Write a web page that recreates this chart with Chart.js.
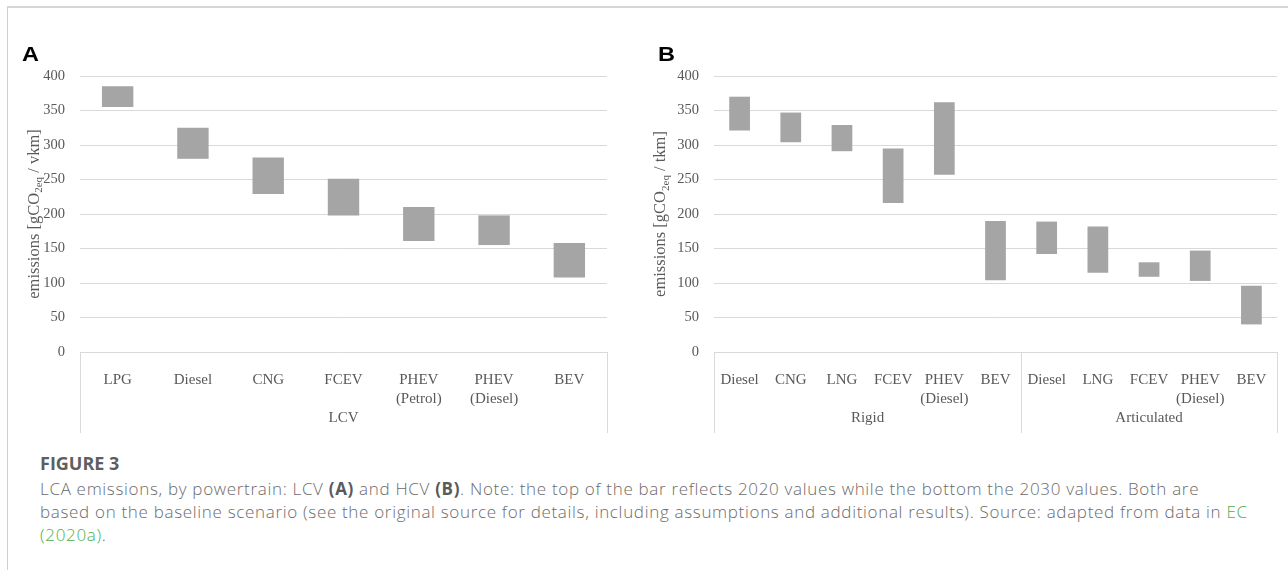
<!DOCTYPE html>
<html>
<head>
<meta charset="utf-8">
<script src="https://cdn.jsdelivr.net/npm/chart.js@4/dist/chart.umd.min.js"></script>
<style>
  html, body { margin: 0; padding: 0; background: #fff; }
  body { width: 1288px; height: 570px; position: relative; overflow: hidden; }
  .frame { position: absolute; left: 7px; top: 6px; right: -10px; bottom: -10px;
           border-top: 2px solid #d6d6d6; border-left: 1px solid #cfcfcf; }
  .panel { position: absolute; top: 0; }
  .letter { position: absolute; font-family: "Liberation Sans", Arial, sans-serif; font-weight: bold;
            font-size: 21px; line-height: 21px; color: #000; transform: scaleX(1.12); transform-origin: left top; }
  .cap { position: absolute; left: 40px; font-family: "Open Sans", "Noto Sans", sans-serif; color: #6b6b6b;
         font-size: 17px; letter-spacing: 0.68px; line-height: 23px; white-space: nowrap; font-weight: 300; }
  .cap b { font-weight: 700; color: #5a5a5a; }
  .cap .lnk { color: #4caf50; }
  .fig { position: absolute; left: 40px; font-family: "Open Sans", "Noto Sans", sans-serif; color: #5e5e5e;
         font-size: 18px; line-height: 18px; font-weight: 700; white-space: nowrap; }
</style>
</head>
<body>
<div class="frame"></div>
<canvas id="chartA" class="panel" style="left:0px" width="640" height="440"></canvas>
<canvas id="chartB" class="panel" style="left:640px" width="648" height="440"></canvas>
<div class="letter" style="left:22px; top:43px">A</div>
<div class="letter" style="left:658px; top:43px">B</div>
<div class="fig" style="top:454px">FIGURE 3</div>
<div class="cap" style="top:477px">LCA emissions, by powertrain: LCV <b>(A)</b> and HCV <b>(B)</b>. Note: the top of the bar reflects 2020 values while the bottom the 2030 values. Both are</div>
<div class="cap" style="top:500px">based on the baseline scenario (see the original source for details, including assumptions and additional results). Source: adapted from data in <span class="lnk">EC</span></div>
<div class="cap" style="top:523px"><span class="lnk">(2020a)</span>.</div>

<script>
// ---- Panel A: light commercial vehicles (g CO2eq per vehicle-km) ----
const categoriesA = ['LPG', 'Diesel', 'CNG', 'FCEV', ['PHEV', '(Petrol)'], ['PHEV', '(Diesel)'], 'BEV'];
const values2020A = [385, 325, 282, 251, 210, 198, 158];
const values2030A = [355, 280, 229, 198, 161, 155, 108];
const groupNamesA = ['LCV'];
const groupSizesA = [7];
const unitA = 'vkm';

// ---- Panel B: heavy commercial vehicles (g CO2eq per tonne-km) ----
const categoriesB = ['Diesel', 'CNG', 'LNG', 'FCEV', ['PHEV', '(Diesel)'], 'BEV',
                     'Diesel', 'LNG', 'FCEV', ['PHEV', '(Diesel)'], 'BEV'];
const values2020B = [370, 347, 329, 295, 362, 190, 189, 182, 130, 147, 96];
const values2030B = [321, 304, 291, 216, 257, 104, 142, 115, 109, 103, 40];
const groupNamesB = ['Rigid', 'Articulated'];
const groupSizesB = [6, 5];
const unitB = 'tkm';

const yTicks = [0, 50, 100, 150, 200, 250, 300, 350, 400];

const SERIF = '"Liberation Serif", "Times New Roman", Times, serif';
const TEXT = '#595959';
const GRID = '#d9d9d9';
const BAR = '#a5a5a5';

// Group separators and group captions under the category labels
const groupAxisPlugin = {
  id: 'groupAxis',
  afterDraw(chart, args, opts) {
    const { ctx, chartArea } = chart;
    const xs = chart.scales.x;
    const n = xs.ticks.length;
    const w = (xs.right - xs.left) / n;
    ctx.save();
    ctx.strokeStyle = GRID;
    ctx.lineWidth = 1;
    let idx = 0;
    const bounds = [0];
    opts.sizes.forEach(s => { idx += s; bounds.push(idx); });
    bounds.forEach(b => {
      const x = Math.round(xs.left + b * w) + 0.5;
      ctx.beginPath();
      ctx.moveTo(x, chartArea.bottom);
      ctx.lineTo(x, chartArea.bottom + opts.depth);
      ctx.stroke();
    });
    ctx.fillStyle = TEXT;
    ctx.font = opts.fontSize + 'px ' + SERIF;
    ctx.textAlign = 'center';
    ctx.textBaseline = 'middle';
    opts.names.forEach((name, i) => {
      const cx = xs.left + (bounds[i] + bounds[i + 1]) / 2 * w;
      ctx.fillText(name, cx, chartArea.bottom + opts.labelOffset);
    });
    ctx.restore();
  }
};

// Rotated y-axis title with a subscript part
const yTitlePlugin = {
  id: 'yTitle',
  afterDraw(chart, args, opts) {
    const { ctx, chartArea } = chart;
    const size = opts.fontSize, subSize = Math.round(size * 0.68);
    const parts = [['emissions [gCO', false], ['2eq', true], [' / ' + opts.unit + ']', false]];
    ctx.save();
    const widths = parts.map(([t, sub]) => {
      ctx.font = (sub ? subSize : size) + 'px ' + SERIF;
      return ctx.measureText(t).width;
    });
    const total = widths.reduce((a, b) => a + b, 0);
    const cy = (chartArea.top + chartArea.bottom) / 2;
    ctx.translate(opts.x, cy);
    ctx.rotate(-Math.PI / 2);
    ctx.fillStyle = TEXT;
    ctx.textBaseline = 'alphabetic';
    ctx.textAlign = 'left';
    let px = -total / 2;
    parts.forEach(([t, sub], i) => {
      ctx.font = (sub ? subSize : size) + 'px ' + SERIF;
      ctx.fillText(t, px, sub ? size * 0.22 : 0);
      px += widths[i];
    });
    ctx.restore();
  }
};

function makeChart(id, cats, top, bottom, names, sizes, unit, yAxisWidth, padRight, titleX, barPct) {
  const pairs = cats.map((c, i) => [bottom[i], top[i]]);
  return new Chart(document.getElementById(id), {
    type: 'bar',
    data: {
      labels: cats,
      datasets: [{
        data: pairs,
        backgroundColor: BAR,
        borderWidth: 0,
        barPercentage: barPct,
        categoryPercentage: 1.0
      }]
    },
    plugins: [groupAxisPlugin, yTitlePlugin],
    options: {
      responsive: false,
      animation: false,
      events: [],
      layout: { padding: { left: 0, right: padRight, top: 76, bottom: 0 } },
      plugins: {
        legend: { display: false },
        tooltip: { enabled: false },
        groupAxis: { names, sizes, depth: 81, labelOffset: 66, fontSize: 15 },
        yTitle: { unit, x: titleX, fontSize: 16.5 }
      },
      scales: {
        y: {
          min: 0, max: 400,
          afterBuildTicks: s => { s.ticks = yTicks.map(v => ({ value: v })); },
          afterFit: s => { s.width = yAxisWidth; },
          ticks: { color: TEXT, padding: 15, font: { family: SERIF, size: 14.5 } },
          grid: { color: GRID, lineWidth: 1, drawTicks: false },
          border: { display: false }
        },
        x: {
          offset: true,
          afterFit: s => { s.height = 88; },
          ticks: { color: TEXT, padding: 10.5, maxRotation: 0, autoSkip: false,
                   font: { family: SERIF, size: 15, lineHeight: 1.25 } },
          grid: { display: false },
          border: { display: false }
        }
      }
    }
  });
}

makeChart('chartA', categoriesA, values2020A, values2030A, groupNamesA, groupSizesA, unitA, 80, 33, 38.8, 0.417);
makeChart('chartB', categoriesB, values2020B, values2030B, groupNamesB, groupSizesB, unitB, 74, 11, 25, 0.405);
</script>
</body>
</html>
